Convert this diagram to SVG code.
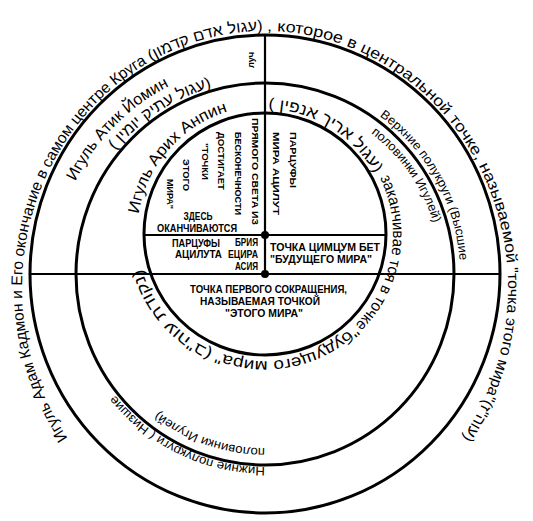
<svg xmlns="http://www.w3.org/2000/svg" width="533" height="521" viewBox="0 0 533 521">
<style>
.c{fill:none;stroke:#000;stroke-width:3}
.l{fill:none;stroke:#000;stroke-width:2.2}
.t{font-family:"Liberation Sans","DejaVu Sans",sans-serif;fill:#000}
.o{font-size:15.5px}
.m{font-size:16px}
.s{font-size:12.5px}
.b{font-weight:bold;font-size:10px}
.v{font-weight:bold;font-size:9.5px;text-anchor:middle}
.h{font-weight:bold;font-size:11.5px}
</style>
<defs>
<path id="pOuter1" d="M67.7,438.0 A243,257 0 0 1 181.9,46.5"/>
<path id="pOuter2" d="M150.9,61.1 A243,257 0 0 1 286.2,32.0"/>
<path id="pOuter3" d="M267.1,31.0 A243,257 0 0 1 508,288"/>
<path id="pOuter4" d="M507.3,267.8 A243,257 0 0 1 436.8,469.7"/>
<path id="pAtik1" d="M75.4,181.5 A211,211 0 0 1 192.8,75.7"/>
<path id="pAtik2" d="M115.3,150.6 A194,194 0 0 1 231.3,82.9"/>
<path id="pArikh1" d="M138.6,214.0 A128,128 0 0 1 247.2,107.2"/>
<path id="pArikhH" d="M268.3,109.0 A125,125 0 0 1 380.9,187.2"/>
<path id="pArikhR1" d="M380.0,177.9 A128,128 0 0 1 347.3,332.0"/>
<path id="pArikhR2" d="M353.2,325.4 A127,127 0 0 1 205.4,346.1"/>
<path id="pArikhR3" d="M212.9,350.9 A128,128 0 0 1 139.0,256.2"/>
<path id="pUp1" d="M379.6,116.2 A195,195 0 0 1 459.9,280.8"/>
<path id="pUp2" d="M370.9,133.4 A176,176 0 0 1 438.3,243.4"/>
<path id="pLow1" d="M265,467 A193,193 0 0 1 97.9,370.5"/>
<path id="pLow2" d="M265,448 A174,174 0 0 1 131.7,385.8"/>
</defs>

<g id="circles">
<ellipse id="circle-adam" class="c" cx="265" cy="274" rx="235" ry="239"/>
<ellipse id="circle-atik" class="c" cx="265" cy="274" rx="189" ry="191"/>
<circle id="circle-arikh" class="c" cx="265" cy="234" r="121"/>
</g>

<g id="connectors">
<path class="l" d="M30,274 H500"/>
<path class="l" d="M265,35 V274"/>
<path class="l" d="M144,235 H386"/>
<circle cx="265" cy="235" r="4"/>
<circle cx="265" cy="274" r="4"/>
</g>

<g id="outer-label" class="t o">
<text><textPath href="#pOuter1" textLength="428" lengthAdjust="spacingAndGlyphs">Игуль Адам Кадмон и Его окончание в самом центре Круга</textPath></text>
<text><textPath href="#pOuter2" textLength="117" lengthAdjust="spacingAndGlyphs">(עגול אדם קדמון)</textPath></text>
<text><textPath href="#pOuter3" textLength="366" lengthAdjust="spacingAndGlyphs"> , которое в центральной точке, называемой </textPath></text>
<text><textPath href="#pOuter4" textLength="179" lengthAdjust="spacingAndGlyphs">"точка этого мира"(עוה"ז)</textPath></text>
</g>

<g id="atik-label" class="t m">
<text><textPath href="#pAtik1" textLength="136" lengthAdjust="spacingAndGlyphs">Игуль Атик Йомин</textPath></text>
<text><textPath href="#pAtik2" textLength="117" lengthAdjust="spacingAndGlyphs">( עגול עתיק יומין)</textPath></text>
</g>

<g id="arikh-label" class="t m">
<text><textPath href="#pArikh1" textLength="143" lengthAdjust="spacingAndGlyphs">Игуль Арих Анпин</textPath></text>
<text><textPath href="#pArikhH" textLength="130" lengthAdjust="spacingAndGlyphs">( עגול אריך אנפין)</textPath></text>
<text><textPath href="#pArikhR1" textLength="159" lengthAdjust="spacingAndGlyphs">заканчивае тся в точке</textPath></text>
<text><textPath href="#pArikhR2" textLength="146" lengthAdjust="spacingAndGlyphs">"будущего мира"</textPath></text>
<text><textPath href="#pArikhR3" textLength="112" lengthAdjust="spacingAndGlyphs">(נקודת עוה"ב)</textPath></text>
</g>

<g id="upper-halves" class="t s">
<text><textPath href="#pUp1" textLength="170" lengthAdjust="spacingAndGlyphs">Верхние полукруги (Высшие</textPath></text>
<text><textPath href="#pUp2" textLength="111" lengthAdjust="spacingAndGlyphs">половинки Игулей)</textPath></text>
</g>

<g id="lower-halves" class="t s">
<text><textPath href="#pLow1" textLength="172" lengthAdjust="spacingAndGlyphs">Нижние полукруги ( Низшие</textPath></text>
<text><textPath href="#pLow2" textLength="115" lengthAdjust="spacingAndGlyphs">половинки Игулей)</textPath></text>
</g>

<g id="ray" class="t">
<text class="v" transform="translate(254,60) rotate(-90)" textLength="16" lengthAdjust="spacingAndGlyphs">луч</text>
</g>

<g id="direct-light" class="t">
<text class="v" transform="translate(252,171.5) rotate(90)" textLength="107" lengthAdjust="spacingAndGlyphs">ПРЯМОГО СВЕТА ИЗ</text>
<text class="v" transform="translate(235,173.5) rotate(90)" textLength="83" lengthAdjust="spacingAndGlyphs">БЕСКОНЕЧНОСТИ</text>
<text class="v" transform="translate(218,161) rotate(90)" textLength="58" lengthAdjust="spacingAndGlyphs">ДОСТИГАЕТ</text>
<text class="v" transform="translate(201.5,161.5) rotate(90)" textLength="37" lengthAdjust="spacingAndGlyphs">"ТОЧКИ</text>
<text class="v" transform="translate(183,175) rotate(90)" textLength="32" lengthAdjust="spacingAndGlyphs">ЭТОГО</text>
<text class="v" transform="translate(166.5,194) rotate(90)" textLength="30" lengthAdjust="spacingAndGlyphs">МИРА"</text>
</g>

<g id="atzilut-partzufim" class="t">
<text class="v" transform="translate(290,160) rotate(90)" textLength="56" lengthAdjust="spacingAndGlyphs">ПАРЦУФЫ</text>
<text class="v" transform="translate(273,173.5) rotate(90)" textLength="83" lengthAdjust="spacingAndGlyphs">МИРА АЦИЛУТ</text>
</g>

<g id="end-here" class="t b" text-anchor="middle">
<text x="198" y="220" textLength="29" lengthAdjust="spacingAndGlyphs">ЗДЕСЬ</text>
<text x="197" y="232" textLength="80" lengthAdjust="spacingAndGlyphs">ОКАНЧИВАЮТСЯ</text>
<text x="196" y="247" textLength="48" lengthAdjust="spacingAndGlyphs">ПАРЦУФЫ</text>
<text x="198.5" y="258" textLength="47" lengthAdjust="spacingAndGlyphs">АЦИЛУТА</text>
</g>

<g id="bya" class="t b" text-anchor="end">
<text x="258" y="246" textLength="23" lengthAdjust="spacingAndGlyphs">БРИЯ</text>
<text x="258" y="258" textLength="30" lengthAdjust="spacingAndGlyphs">ЕЦИРА</text>
<text x="258" y="270" textLength="23" lengthAdjust="spacingAndGlyphs">АСИЯ</text>
</g>

<g id="tzimtzum-bet" class="t h">
<text x="270" y="251" textLength="110" lengthAdjust="spacingAndGlyphs">ТОЧКА ЦИМЦУМ БЕТ</text>
<text x="270" y="263" textLength="102" lengthAdjust="spacingAndGlyphs">"БУДУЩЕГО МИРА"</text>
</g>

<g id="first-restriction" class="t h">
<text x="190" y="293" textLength="157" lengthAdjust="spacingAndGlyphs">ТОЧКА ПЕРВОГО СОКРАЩЕНИЯ,</text>
<text x="200" y="305" textLength="120" lengthAdjust="spacingAndGlyphs">НАЗЫВАЕМАЯ ТОЧКОЙ</text>
<text x="225" y="317" textLength="78" lengthAdjust="spacingAndGlyphs">"ЭТОГО МИРА"</text>
</g>
</svg>
